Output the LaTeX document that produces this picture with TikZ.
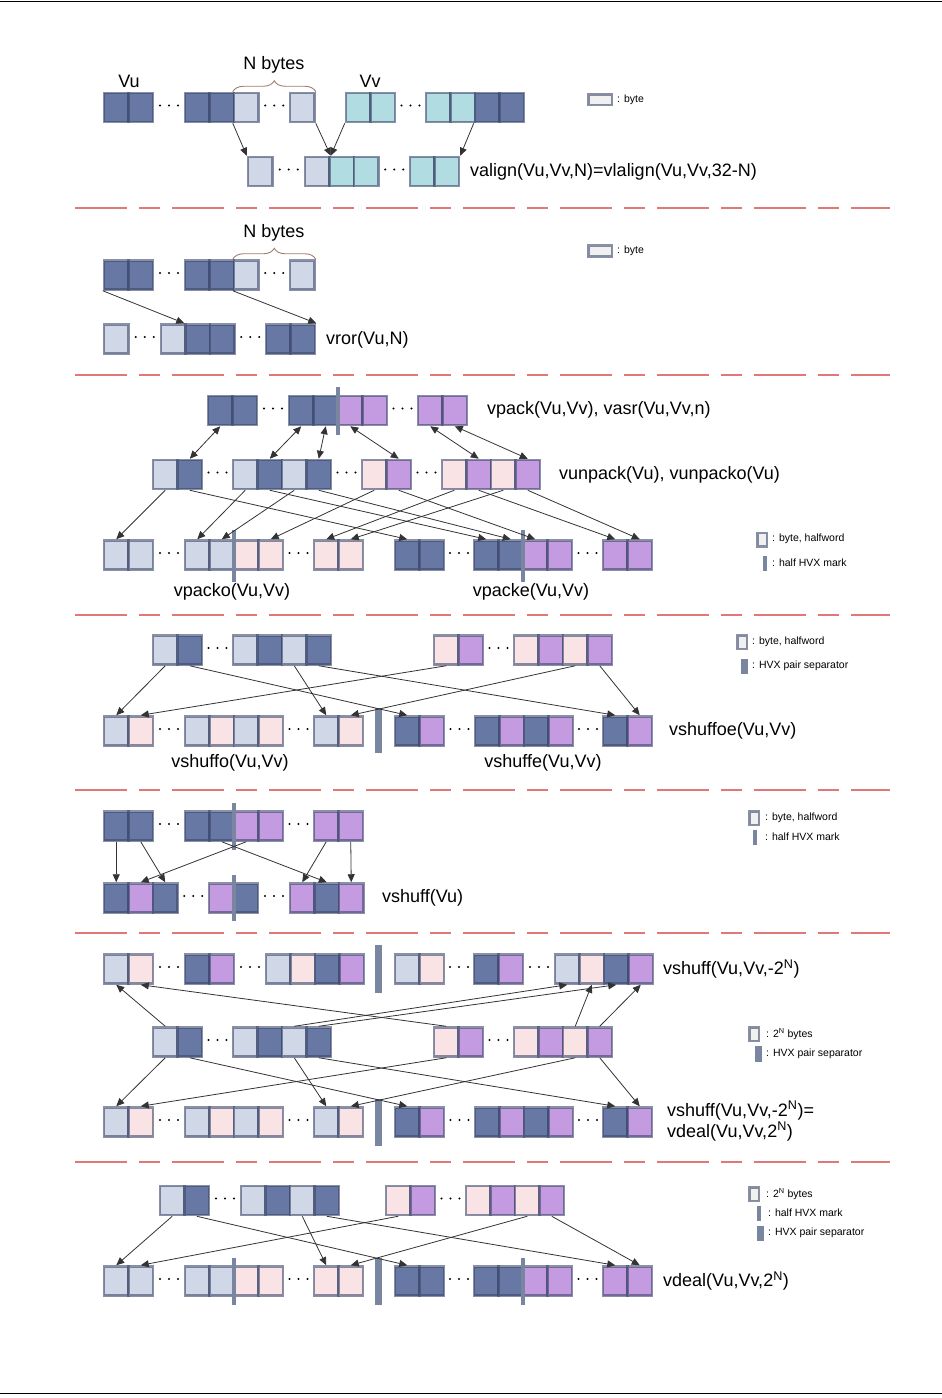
\documentclass[tikz,border=0pt]{standalone}
\usepackage{fontspec}
\setmainfont{Liberation Sans}
\usetikzlibrary{arrows.meta,calc,decorations.pathreplacing}

\definecolor{dk}{RGB}{104,120,164}
\definecolor{lt}{RGB}{208,215,230}
\definecolor{cy}{RGB}{177,221,226}
\definecolor{pk}{RGB}{249,227,228}
\definecolor{pu}{RGB}{196,155,225}
\definecolor{edge}{RGB}{60,72,108}
\definecolor{markc}{RGB}{122,133,160}
\definecolor{sepred}{RGB}{224,120,120}
\definecolor{bracec}{RGB}{160,125,110}

\tikzset{
  cell/.style={rectangle, draw=edge, draw opacity=0.6, line width=2.5pt,
    minimum width=24.5pt, minimum height=29pt, inner sep=0pt},
  keybox/.style={cell, fill=black!6, minimum width=9.5pt, minimum height=13.5pt},
  arr/.style={draw=black!80, line width=0.8pt, arrows={-Triangle[length=8pt,width=7pt]}},
  dblarr/.style={draw=black!80, line width=0.8pt,
    arrows={Triangle[length=8pt,width=7pt]-Triangle[length=8pt,width=7pt]}},
  lbl/.style={font=\fontsize{18}{21}\selectfont, anchor=west, inner sep=0pt},
  keytxt/.style={font=\fontsize{10.5}{13}\selectfont, anchor=west, inner sep=0pt},
  cutline/.style={sepred, line width=2pt, dash pattern=on 52pt off 12pt on 21pt off 12pt},
  nbrace/.style={bracec, line width=0.9pt, decorate, decoration={brace, amplitude=11pt}},
}

% a row of cells: name, left x, centre y, colours
\newcommand{\cellrow}[4]{%
  \foreach \c [count=\i] in {#4}
    \node[cell, fill=\c] (#1\i) at ({#2+(\i-0.5)*24.5}, #3) {};
}
% three dots between two cells
\newcommand{\gapdots}[2]{%
  \path ($(#1.east)!0.5!(#2.west)$) coordinate (gd);
  \foreach \d in {-9,0,9} \fill ([xshift=\d pt, yshift=2pt]gd) circle (1.1pt);
}
\newcommand{\halfmark}[3]{\fill[markc] ({#1-2},#2) rectangle ({#1+2},#3);}
\newcommand{\pairsep}[3]{\fill[markc] ({#1-3.5},#2) rectangle ({#1+3.5},#3);}

\begin{document}
\begin{tikzpicture}[x=1pt, y=-1pt]
\useasboundingbox (0,0) rectangle (942,1398);
\draw[line width=0.8pt] (0,1) -- (942,1);
\draw[line width=0.8pt] (0,1393) -- (942,1393);

% separators
\foreach \y in {208,375,615,790,933,1162}
  \draw[cutline] (75,\y) -- (890,\y);

% ---- valign
\cellrow{s1ta}{104}{107.5}{dk,dk}
\cellrow{s1tb}{185}{107.5}{dk,dk,lt}
\cellrow{s1tc}{290}{107.5}{lt}
\cellrow{s1va}{346}{107.5}{cy,cy}
\cellrow{s1vb}{426}{107.5}{cy,cy,dk,dk}
\cellrow{s1ba}{248}{171.5}{lt}
\cellrow{s1bb}{305}{171.5}{lt,cy,cy}
\cellrow{s1bc}{410}{171.5}{cy,cy}
\gapdots{s1ta2}{s1tb1} \gapdots{s1tb3}{s1tc1} \gapdots{s1va2}{s1vb1}
\gapdots{s1ba1}{s1bb1} \gapdots{s1bb3}{s1bc1}
\draw[nbrace] (s1tb3.north west) -- (s1tc1.north east);
\node[lbl, anchor=center] (s1nb) at (274,65) {N bytes};
\node[lbl, anchor=center] (vulbl) at (129,81) {Vu};
\node[lbl, anchor=center] (vvlbl) at (370,81) {Vv};
\draw[arr] (s1tb3.south west) -- (s1ba1.north west);
\draw[arr] (s1tc1.south east) -- (s1bb1.north east);
\draw[arr] (s1va1.south west) -- (s1bb1.north east);
\draw[arr] (s1vb3.south west) -- (s1bc2.north east);
\node[lbl] (s1op) at (470,172) {valign(Vu,Vv,N)=vlalign(Vu,Vv,32-N)};
\node[keybox, minimum width=23.5pt, minimum height=10.5pt] (s1key) at (600,99.5) {};
\node[keytxt] (s1keyt) at (617,100) {: byte};

% ---- vror
\cellrow{s2ta}{104}{275}{dk,dk}
\cellrow{s2tb}{185}{275}{dk,dk,lt}
\cellrow{s2tc}{290}{275}{lt}
\cellrow{s2ba}{104}{339}{lt}
\cellrow{s2bb}{161}{339}{lt,dk,dk}
\cellrow{s2bc}{266}{339}{dk,dk}
\gapdots{s2ta2}{s2tb1} \gapdots{s2tb3}{s2tc1}
\gapdots{s2ba1}{s2bb1} \gapdots{s2bb3}{s2bc1}
\draw[nbrace] (s2tb3.north west) -- (s2tc1.north east);
\node[lbl, anchor=center] (s2nb) at (274,233) {N bytes};
\draw[arr] (s2ta1.south west) -- (s2bb2.north west);
\draw[arr] (s2tb3.south west) -- (s2bc2.north east);
\node[lbl] (s2op) at (326,340) {vror(Vu,N)};
\node[keybox, minimum width=23.5pt, minimum height=11pt] (s2key) at (600,251) {};
\node[keytxt] (s2keyt) at (617,251) {: byte};

% ---- vpack / vunpack
\cellrow{s3ta}{208}{410.5}{dk,dk}
\cellrow{s3tb}{289}{410.5}{dk,dk,pu,pu}
\cellrow{s3tc}{418}{410.5}{pu,pu}
\cellrow{s3ma}{153}{474.5}{lt,dk}
\cellrow{s3mb}{233}{474.5}{lt,dk,lt,dk}
\cellrow{s3mc}{362}{474.5}{pk,pu}
\cellrow{s3md}{442}{474.5}{pk,pu,pk,pu}
\cellrow{s3ba}{104}{555}{lt,lt}
\cellrow{s3bb}{185}{555}{lt,lt,pk,pk}
\cellrow{s3bc}{314}{555}{pk,pk}
\cellrow{s3bd}{395}{555}{dk,dk}
\cellrow{s3be}{474}{555}{dk,dk,pu,pu}
\cellrow{s3bf}{603}{555}{pu,pu}
\gapdots{s3ta2}{s3tb1} \gapdots{s3tb4}{s3tc1}
\gapdots{s3ma2}{s3mb1} \gapdots{s3mb4}{s3mc1} \gapdots{s3mc2}{s3md1}
\gapdots{s3ba2}{s3bb1} \gapdots{s3bb4}{s3bc1} \gapdots{s3bd2}{s3be1} \gapdots{s3be4}{s3bf1}
\halfmark{338}{387}{435}
\halfmark{234}{530}{582}
\halfmark{523}{530}{582}
\draw[dblarr] (s3ta1.south) -- (s3ma2.north);
\draw[dblarr] (s3tb1.south) -- (s3mb2.north);
\draw[dblarr] (s3tb2.south) -- (s3mb4.north);
\draw[dblarr] (s3tb3.south) -- (s3mc2.north);
\draw[dblarr] (s3tc1.south) -- (s3md2.north);
\draw[dblarr] (s3tc2.south) -- (s3md4.north);
\draw[arr] (s3ma1.south) -- (s3ba1.north);
\draw[arr] (s3ma2.south) -- (s3bd1.north);
\draw[arr] (s3mb1.south) -- (s3bb1.north);
\draw[arr] (s3mb2.south) -- (s3be1.north);
\draw[arr] (s3mb3.south) -- (s3bb2.north);
\draw[arr] (s3mb4.south) -- (s3be2.north);
\draw[arr] (s3mc1.south) -- (s3bb4.north);
\draw[arr] (s3mc2.south) -- (s3be3.north);
\draw[arr] (s3md1.south) -- (s3bc1.north);
\draw[arr] (s3md2.south) -- (s3bf1.north);
\draw[arr] (s3md3.south) -- (s3bc2.north);
\draw[arr] (s3md4.south) -- (s3bf2.north);
\node[lbl] (s3op1) at (487,410) {vpack(Vu,Vv), vasr(Vu,Vv,n)};
\node[lbl] (s3op2) at (559,475) {vunpack(Vu), vunpacko(Vu)};
\node[lbl, anchor=center] (s3op3) at (232,592) {vpacko(Vu,Vv)};
\node[lbl, anchor=center] (s3op4) at (531,592) {vpacke(Vu,Vv)};
\node[keybox] (s3key) at (762,539.5) {};
\node[keytxt] (s3keyt) at (772,539) {: byte, halfword};
\halfmark{765}{556}{571}
\node[keytxt] (s3keyt2) at (772,563) {: half HVX mark};

% ---- vshuffe / vshuffo
\cellrow{s4ta}{153}{650}{lt,dk}
\cellrow{s4tb}{233}{650}{lt,dk,lt,dk}
\cellrow{s4tc}{434}{650}{pk,pu}
\cellrow{s4td}{514}{650}{pk,pu,pk,pu}
\cellrow{s4ba}{104}{731}{lt,pk}
\cellrow{s4bb}{185}{731}{lt,pk,lt,pk}
\cellrow{s4bc}{314}{731}{lt,pk}
\cellrow{s4bd}{395}{731}{dk,pu}
\cellrow{s4be}{475}{731}{dk,pu,dk,pu}
\cellrow{s4bf}{603}{731}{dk,pu}
\gapdots{s4ta2}{s4tb1} \gapdots{s4tc2}{s4td1}
\gapdots{s4ba2}{s4bb1} \gapdots{s4bb4}{s4bc1} \gapdots{s4bd2}{s4be1} \gapdots{s4be4}{s4bf1}
\pairsep{378}{708}{753}
\draw[arr] (s4ta1.south) -- (s4ba1.north);
\draw[arr] (s4ta2.south) -- (s4bd1.north);
\draw[arr] (s4tb3.south) -- (s4bc1.north);
\draw[arr] (s4tb4.south) -- (s4bf1.north);
\draw[arr] (s4tc1.south) -- (s4ba2.north);
\draw[arr] (s4td3.south) -- (s4bc2.north);
\draw[arr] (s4td4.south) -- (s4bf2.north);
\node[lbl, anchor=center] (s4op1) at (230,763) {vshuffo(Vu,Vv)};
\node[lbl, anchor=center] (s4op2) at (543,763) {vshuffe(Vu,Vv)};
\node[lbl] (s4op3) at (669,731) {vshuffoe(Vu,Vv)};
\node[keybox] (s4key) at (742,642) {};
\node[keytxt] (s4keyt) at (752,642) {: byte, halfword};
\pairsep{744.5}{659}{674}
\node[keytxt] (s4keyt2) at (752,666) {: HVX pair separator};

% ---- vshuff(Vu)
\cellrow{s5ta}{104}{826}{dk,dk}
\cellrow{s5tb}{185}{826}{dk,dk,pu,pu}
\cellrow{s5tc}{314}{826}{pu,pu}
\cellrow{s5ba}{104}{898}{dk,pu,dk}
\cellrow{s5bb}{209}{898}{pu,dk}
\cellrow{s5bc}{290}{898}{pu,dk,pu}
\gapdots{s5ta2}{s5tb1} \gapdots{s5tb4}{s5tc1}
\gapdots{s5ba3}{s5bb1} \gapdots{s5bb2}{s5bc1}
\halfmark{234}{803}{850}
\halfmark{234}{875}{921}
\draw[arr] (s5ta1.south) -- (s5ba1.north);
\draw[arr] (s5ta2.south) -- (s5ba3.north);
\draw[arr] (s5tb2.south) -- (s5bc2.north);
\draw[arr] (s5tb3.south) -- (s5ba2.north);
\draw[arr] (s5tc1.south) -- (s5bc1.north);
\draw[arr] (s5tc2.south) -- (s5bc3.north);
\node[lbl] (s5op) at (382,898) {vshuff(Vu)};
\node[keybox] (s5key) at (754,818) {};
\node[keytxt] (s5keyt) at (765,818) {: byte, halfword};
\halfmark{755}{830}{845}
\node[keytxt] (s5keyt2) at (765,837) {: half HVX mark};

% ---- vshuff(Vu,Vv,-2^N) / vdeal
\cellrow{s6ta}{104}{969}{lt,pk}
\cellrow{s6tb}{185}{969}{dk,pu}
\cellrow{s6tc}{266}{969}{lt,pk,dk,pu}
\cellrow{s6td}{395}{969}{lt,pk}
\cellrow{s6te}{474}{969}{dk,pu}
\cellrow{s6tf}{555}{969}{lt,pk,dk,pu}
\cellrow{s6ma}{153}{1042}{lt,dk}
\cellrow{s6mb}{233}{1042}{lt,dk,lt,dk}
\cellrow{s6mc}{434}{1042}{pk,pu}
\cellrow{s6md}{514}{1042}{pk,pu,pk,pu}
\cellrow{s6ba}{104}{1122}{lt,pk}
\cellrow{s6bb}{185}{1122}{lt,pk,lt,pk}
\cellrow{s6bc}{314}{1122}{lt,pk}
\cellrow{s6bd}{395}{1122}{dk,pu}
\cellrow{s6be}{475}{1122}{dk,pu,dk,pu}
\cellrow{s6bf}{603}{1122}{dk,pu}
\gapdots{s6ta2}{s6tb1} \gapdots{s6tb2}{s6tc1} \gapdots{s6td2}{s6te1} \gapdots{s6te2}{s6tf1}
\gapdots{s6ma2}{s6mb1} \gapdots{s6mc2}{s6md1}
\gapdots{s6ba2}{s6bb1} \gapdots{s6bb4}{s6bc1} \gapdots{s6bd2}{s6be1} \gapdots{s6be4}{s6bf1}
\pairsep{378}{945}{993}
\pairsep{378}{1099}{1146}
\draw[arr] (s6ma1.north) -- (s6ta1.south);
\draw[arr] (s6mc1.north) -- (s6ta2.south);
\draw[arr] (s6mb3.north) -- (s6tf1.south);
\draw[arr] (s6mb4.north) -- (s6tf3.south);
\draw[arr] (s6md3.north) -- (s6tf2.south);
\draw[arr] (s6md4.north) -- (s6tf4.south);
\draw[arr] (s6ma1.south) -- (s6ba1.north);
\draw[arr] (s6ma2.south) -- (s6bd1.north);
\draw[arr] (s6mb3.south) -- (s6bc1.north);
\draw[arr] (s6mb4.south) -- (s6bf1.north);
\draw[arr] (s6mc1.south) -- (s6ba2.north);
\draw[arr] (s6md3.south) -- (s6bc2.north);
\draw[arr] (s6md4.south) -- (s6bf2.north);
\node[lbl] (s6op1) at (663,969) {vshuff(Vu,Vv,-2\textsuperscript{N})};
\node[lbl, align=left] (s6op2) at (667,1121)
  {vshuff(Vu,Vv,-2\textsuperscript{N})=\\vdeal(Vu,Vv,2\textsuperscript{N})};
\node[keybox] (s6key) at (754,1034) {};
\node[keytxt] (s6keyt) at (766,1034) {: 2\textsuperscript{N} bytes};
\pairsep{758.5}{1046}{1062}
\node[keytxt] (s6keyt2) at (766,1054) {: HVX pair separator};

% ---- vdeal
\cellrow{s7ta}{160}{1200.5}{lt,dk}
\cellrow{s7tb}{241}{1200.5}{lt,dk,lt,dk}
\cellrow{s7tc}{386}{1200.5}{pk,pu}
\cellrow{s7td}{466}{1200.5}{pk,pu,pk,pu}
\cellrow{s7ba}{104}{1281}{lt,lt}
\cellrow{s7bb}{185}{1281}{lt,lt,pk,pk}
\cellrow{s7bc}{314}{1281}{pk,pk}
\cellrow{s7bd}{395}{1281}{dk,dk}
\cellrow{s7be}{474}{1281}{dk,dk,pu,pu}
\cellrow{s7bf}{603}{1281}{pu,pu}
\gapdots{s7ta2}{s7tb1} \gapdots{s7tc2}{s7td1}
\gapdots{s7ba2}{s7bb1} \gapdots{s7bb4}{s7bc1} \gapdots{s7bd2}{s7be1} \gapdots{s7be4}{s7bf1}
\halfmark{234}{1258}{1305}
\halfmark{523}{1258}{1305}
\pairsep{378}{1258}{1305}
\draw[arr] (s7ta1.south) -- (s7ba1.north);
\draw[arr] (s7ta2.south) -- (s7bd1.north);
\draw[arr] (s7tb3.south) -- (s7bc1.north);
\draw[arr] (s7tb4.south) -- (s7bf1.north);
\draw[arr] (s7tc1.south) -- (s7ba2.north);
\draw[arr] (s7td3.south) -- (s7bc2.north);
\draw[arr] (s7td4.south) -- (s7bf2.north);
\node[lbl] (s7op) at (663,1281) {vdeal(Vu,Vv,2\textsuperscript{N})};
\node[keybox] (s7key) at (754,1194) {};
\node[keytxt] (s7keyt) at (766,1194) {: 2\textsuperscript{N} bytes};
\halfmark{759}{1206}{1221}
\node[keytxt] (s7keyt2) at (768,1213) {: half HVX mark};
\pairsep{760}{1226}{1241}
\node[keytxt] (s7keyt3) at (768,1233) {: HVX pair separator};
\end{tikzpicture}
\end{document}
